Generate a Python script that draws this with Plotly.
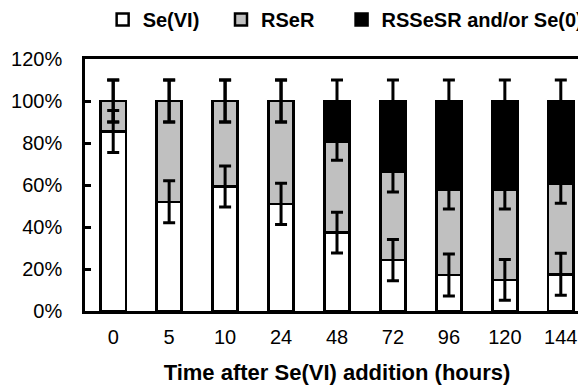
import numpy as np
import plotly.graph_objects as go

hours = ["0", "5", "10", "24", "48", "72", "96", "120", "144"]
se_vi = [85.5, 52.0, 59.3, 51.0, 37.3, 24.2, 17.1, 14.8, 17.5]
rser = [14.5, 48.0, 40.7, 49.0, 43.5, 42.0, 40.6, 42.9, 42.9]
rssesr = [0.0, 0.0, 0.0, 0.0, 19.2, 33.8, 42.3, 42.3, 39.6]
se_vi_err = [10, 10, 9.8, 9.8, 9.7, 9.8, 10, 9.7, 10]
rser_err = [10, 10, 10, 10, 9.0, 9.5, 9.1, 9.1, 9.1]
total_err = [10, 10, 10, 10, 10, 10, 10, 10, 10]

series_names = ["Se(VI)", "RSeR", "RSSeSR and/or Se(0)"]
legend_pad = [3, 4, 0]  # trailing non-breaking spaces to space legend entries
colors = ["#ffffff", "#c0c0c0", "#000000"]

fig = go.Figure()
for name, pad, vals, col in zip(series_names, legend_pad, [se_vi, rser, rssesr], colors):
    fig.add_trace(go.Bar(
        x=hours, y=vals, name=name + "&nbsp;" * pad,
        marker=dict(color=col, line=dict(color="black", width=2.5)),
    ))

# error bars drawn on top of the stacked bars at the cumulative heights
cum = np.cumsum(np.array([se_vi, rser, rssesr]), axis=0)
for level, err in zip(cum, [se_vi_err, rser_err, total_err]):
    fig.add_trace(go.Scatter(
        x=hours, y=level, mode="markers",
        marker=dict(size=1, color="rgba(0,0,0,0)"),
        error_y=dict(type="data", array=err, visible=True,
                     color="black", thickness=3, width=6),
        showlegend=False, hoverinfo="skip",
    ))

fig.update_layout(
    barmode="stack",
    bargap=0.55,
    width=586, height=388,
    margin=dict(l=77, r=5, t=51, b=85, autoexpand=False),
    paper_bgcolor="white", plot_bgcolor="white",
    font=dict(family="Liberation Sans, Arial, sans-serif", color="black", size=20),
    legend=dict(
        orientation="h", x=0.035, xanchor="left", y=1.234, yanchor="top",
        yref="paper", traceorder="normal",
        font=dict(size=20, family="Liberation Sans, Arial, sans-serif", weight="bold"),
        itemwidth=30, bgcolor="rgba(0,0,0,0)",
    ),
    xaxis=dict(
        type="category", showline=True, linecolor="black", linewidth=2.5,
        mirror=True, ticks="", showgrid=False, automargin=False,
        tickfont=dict(size=20), ticklabelstandoff=6,
        title=dict(text="<b>Time after Se(VI) addition (hours)</b>",
                   font=dict(size=22), standoff=18),
    ),
    yaxis=dict(
        range=[0, 120], dtick=20, ticksuffix="%", automargin=False,
        showline=True, linecolor="black", linewidth=2.5, mirror=True,
        ticks="inside", ticklen=6, tickwidth=2.5, tickcolor="black",
        showgrid=False, zeroline=False, tickfont=dict(size=20),
        ticklabelstandoff=16,
    ),
)
fig.write_html("out.html")
